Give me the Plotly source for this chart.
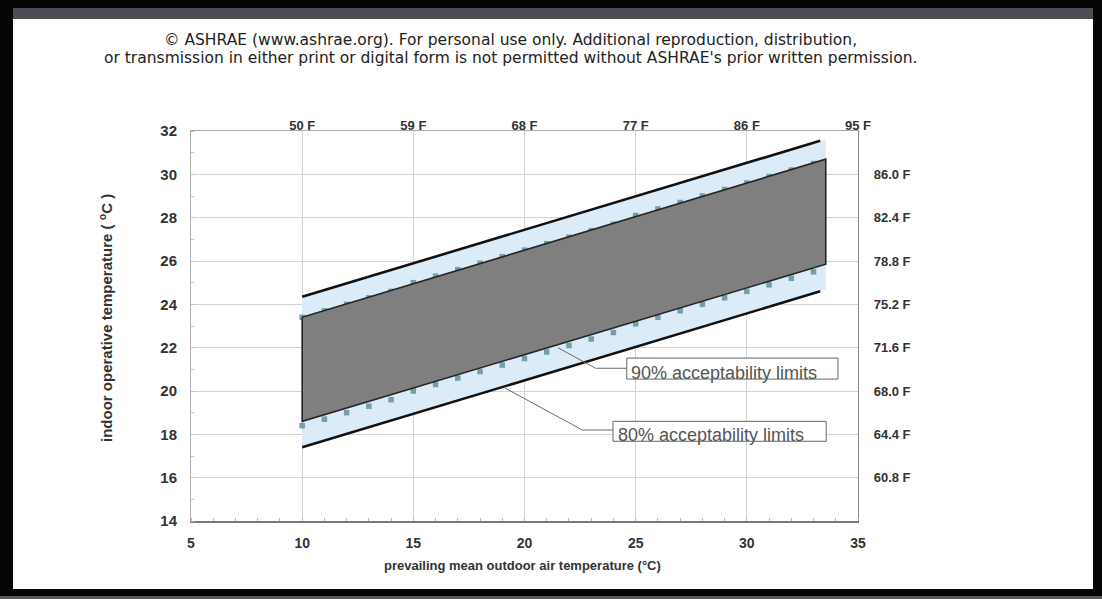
import plotly.graph_objects as go

# ---------------- data ----------------
# 80% acceptability limits (solid black lines)
x80 = [10, 33.3]
upper80 = [24.35, 31.55]
lower80 = [17.4, 24.6]

# light-blue band spanned by the 80% limits
band_x = [10, 33.55]
band_hi = [24.35, 31.62]
band_lo = [17.4, 24.68]

# 90% acceptability limits (square markers)
x90 = [10, 11, 12, 13, 14, 15, 16, 17, 18, 19, 20, 21, 22, 23, 24, 25, 26, 27, 28, 29, 30, 31, 32, 33]
upper90 = [23.4, 23.7, 24.0, 24.3, 24.6, 25.0, 25.3, 25.6, 25.9, 26.2, 26.5, 26.8, 27.1, 27.4,
           27.7, 28.1, 28.4, 28.7, 29.0, 29.3, 29.6, 29.9, 30.2, 30.5]
lower90 = [18.4, 18.7, 19.0, 19.3, 19.6, 20.0, 20.3, 20.6, 20.9, 21.2, 21.5, 21.8, 22.1, 22.4,
           22.7, 23.1, 23.4, 23.7, 24.0, 24.3, 24.6, 24.9, 25.2, 25.5]

# dark grey comfort zone polygon
zone_x = [10, 33.55, 33.55, 10, 10]
zone_y = [23.4, 30.7, 25.85, 18.6, 23.4]

# leader lines for the labels
lead90_x = [21.5, 23.2, 24.6]
lead90_y = [22.0, 21.05, 21.05]
lead80_x = [19.1, 22.6, 24.0]
lead80_y = [20.15, 18.2, 18.2]

# label boxes  (x0, x1, y0, y1)
box90 = [24.6, 34.1, 20.55, 21.52]
box80 = [23.98, 33.57, 17.68, 18.6]
label90 = "90% acceptability limits"
label80 = "80% acceptability limits"

# axes
x_ticks = [5, 10, 15, 20, 25, 30, 35]
y_ticks = [14, 16, 18, 20, 22, 24, 26, 28, 30, 32]
top_ticks = [10, 15, 20, 25, 30, 35]
top_text = ["50 F", "59 F", "68 F", "77 F", "86 F", "95 F"]
right_ticks = [16, 18, 20, 22, 24, 26, 28, 30]
right_text = ["60.8 F", "64.4 F", "68.0 F", "71.6 F", "75.2 F", "78.8 F", "82.4 F", "86.0 F"]

header1 = "© ASHRAE (www.ashrae.org). For personal use only. Additional reproduction, distribution,"
header2 = "or transmission in either print or digital form is not permitted without ASHRAE's prior written permission."
x_title = "prevailing mean outdoor air temperature (°C)"
y_title = "indoor operative temperature ( <sup>o</sup>C )"

# ---------------- figure ----------------
W, H = 1102, 599
L, R, T, B = 191, 858, 131, 521


def xp(px):
    return (px - L) / (R - L)


def yp(py):
    return (B - py) / (B - T)


fig = go.Figure()

# light blue band
fig.add_trace(go.Scatter(x=band_x, y=band_lo, mode="lines", line=dict(width=0),
                         hoverinfo="skip", showlegend=False))
fig.add_trace(go.Scatter(x=band_x, y=band_hi, mode="lines", line=dict(width=0),
                         fill="tonexty", fillcolor="#dcebf8", hoverinfo="skip", showlegend=False))

# 90% markers
for yy in (upper90, lower90):
    fig.add_trace(go.Scatter(x=x90, y=yy, mode="markers",
                             marker=dict(symbol="square", size=5.5, color="#72a0a6"),
                             hoverinfo="skip", showlegend=False))

# grey zone
fig.add_trace(go.Scatter(x=zone_x, y=zone_y, mode="lines", fill="toself", fillcolor="#7f7f7f",
                         line=dict(color="#262626", width=1.6), hoverinfo="skip", showlegend=False))

# 80% limit lines
for yy in (upper80, lower80):
    fig.add_trace(go.Scatter(x=x80, y=yy, mode="lines", line=dict(color="#111111", width=2.6),
                             hoverinfo="skip", showlegend=False))

# leader lines
for lx, ly in ((lead90_x, lead90_y), (lead80_x, lead80_y)):
    fig.add_trace(go.Scatter(x=lx, y=ly, mode="lines", line=dict(color="#6b6b6b", width=1),
                             hoverinfo="skip", showlegend=False))

# dummy trace for secondary axes
fig.add_trace(go.Scatter(x=[5], y=[14], xaxis="x2", yaxis="y2", mode="markers",
                         marker=dict(opacity=0), hoverinfo="skip", showlegend=False))

shapes = []
# label boxes
for bx in (box90, box80):
    shapes.append(dict(type="rect", xref="x", yref="y", x0=bx[0], x1=bx[1], y0=bx[2], y1=bx[3],
                       fillcolor="white", line=dict(color="#666666", width=1), layer="above"))


# picture frame
def prect(x0, x1, y0, y1, color):
    return dict(type="rect", xref="paper", yref="paper", x0=xp(x0), x1=xp(x1), y0=yp(y1), y1=yp(y0),
                fillcolor=color, line=dict(width=0), layer="above")


shapes += [
    prect(0, W, 0, 8, "#050505"),
    prect(13, 1093, 8, 19, "#4b4f53"),
    prect(0, 13, 0, H, "#050505"),
    prect(1093, W, 0, H, "#050505"),
    prect(0, W, 589, H, "#050505"),
    prect(0, W, 596, H, "#5a5a5a"),
]

annotations = [
    dict(text=header1, x=xp(510), y=yp(40), xref="paper", yref="paper", showarrow=False,
         xanchor="center", yanchor="middle", font=dict(family="DejaVu Sans", size=15.5, color="#222222")),
    dict(text=header2, x=xp(510), y=yp(58), xref="paper", yref="paper", showarrow=False,
         xanchor="center", yanchor="middle", font=dict(family="DejaVu Sans", size=15.5, color="#222222")),
    dict(text=label90, x=box90[0] + 0.12, y=20.85, xref="x", yref="y", showarrow=False,
         xanchor="left", yanchor="middle", font=dict(family="Liberation Sans", size=18, color="#555555")),
    dict(text=label80, x=box80[0] + 0.12, y=17.95, xref="x", yref="y", showarrow=False,
         xanchor="left", yanchor="middle", font=dict(family="Liberation Sans", size=18, color="#555555")),
    dict(text="<b>" + x_title + "</b>", x=xp(522), y=yp(565), xref="paper", yref="paper", showarrow=False,
         xanchor="center", yanchor="middle", font=dict(family="Liberation Sans", size=13, color="#333333")),
    dict(text="<b>" + y_title + "</b>", x=xp(105), y=yp(318), xref="paper", yref="paper", showarrow=False,
         xanchor="center", yanchor="middle", textangle=-90,
         font=dict(family="Liberation Sans", size=15, color="#333333")),
]

tick_font = dict(family="Liberation Sans", size=14, color="#333333")
left_font = dict(family="Liberation Sans", size=15, color="#333333")
small_font = dict(family="Liberation Sans", size=13, color="#333333")

fig.update_layout(
    width=W, height=H,
    margin=dict(l=L, r=W - R, t=T, b=H - B, pad=0),
    paper_bgcolor="white", plot_bgcolor="white",
    showlegend=False,
    shapes=shapes,
    annotations=annotations,
    xaxis=dict(range=[5, 35], tickvals=x_ticks, ticktext=[f"<b>{v}</b>" for v in x_ticks],
               tickfont=tick_font, showgrid=True, gridcolor="#d4d4d4", gridwidth=1,
               showline=True, linecolor="#7a7a7a", linewidth=1.5, zeroline=False,
               ticks="outside", ticklen=8, tickcolor="rgba(0,0,0,0)",
               minor=dict(ticks="inside", dtick=1, ticklen=3, tickcolor="#b5b5b5", showgrid=False),
               fixedrange=True),
    yaxis=dict(range=[14, 32], tickvals=y_ticks, ticktext=[f"<b>{v}</b>" for v in y_ticks],
               tickfont=left_font, showgrid=True, gridcolor="#d4d4d4", gridwidth=1,
               showline=True, linecolor="#b0b0b0", linewidth=1, zeroline=False,
               ticks="outside", ticklen=10, tickcolor="rgba(0,0,0,0)",
               minor=dict(ticks="inside", dtick=1, ticklen=3, tickcolor="#c0c0c0", showgrid=False),
               fixedrange=True),
    xaxis2=dict(range=[5, 35], overlaying="x", side="top", anchor="y",
                tickvals=top_ticks, ticktext=[f"<b>{t}</b>" for t in top_text],
                tickfont=small_font, showgrid=False, zeroline=False,
                showline=True, linecolor="#a8a8a8", linewidth=1,
                ticks="", ticklabelstandoff=-5, fixedrange=True),
    yaxis2=dict(range=[14, 32], overlaying="y", side="right", anchor="x",
                tickvals=right_ticks, ticktext=[f"<b>{t}</b>" for t in right_text],
                tickfont=small_font, showgrid=False, zeroline=False,
                showline=True, linecolor="#8a8a8a", linewidth=1.2,
                ticks="outside", ticklen=12, tickcolor="rgba(0,0,0,0)", fixedrange=True),
)

fig.write_html("out.html", config={"displayModeBar": False},
               post_script="document.body.style.margin='0';document.body.style.overflow='hidden';")
